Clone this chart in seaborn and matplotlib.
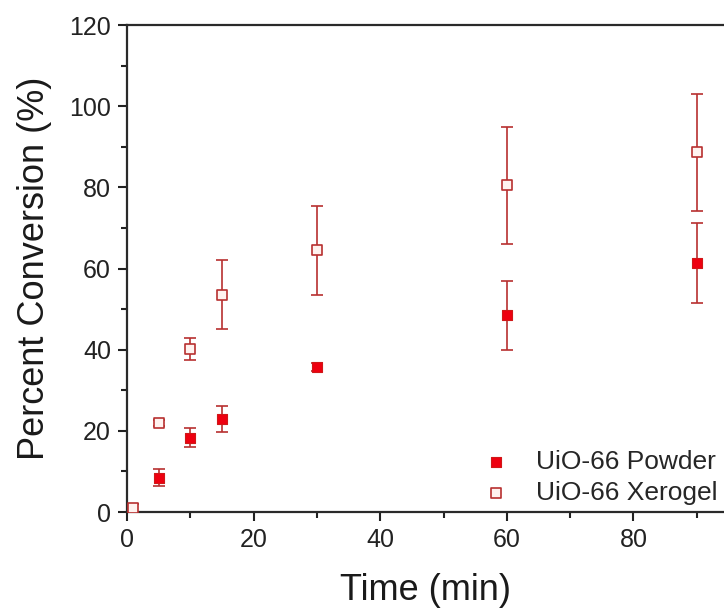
import numpy as np
import pandas as pd
import matplotlib
matplotlib.use("Agg")
import matplotlib.pyplot as plt
import seaborn as sns
from matplotlib.ticker import MultipleLocator

time_powder = [5, 10, 15, 30, 60, 90]
conv_powder = [8.5, 18.3, 22.9, 35.8, 48.5, 61.3]
err_powder = [2.1, 2.3, 3.2, 1.0, 8.5, 9.9]

time_xerogel = [1, 5, 10, 15, 30, 60, 90]
conv_xerogel = [1.0, 21.9, 40.2, 53.5, 64.5, 80.5, 88.6]
err_xerogel = [1.0, 0.8, 2.7, 8.5, 11.0, 14.5, 14.4]

labels = ["UiO-66 Powder", "UiO-66 Xerogel"]

sns.set_theme(style="ticks")
plt.rcParams['font.family'] = ['Liberation Sans', 'DejaVu Sans']

df = pd.concat([
    pd.DataFrame({"t": time_powder, "c": conv_powder, "s": labels[0]}),
    pd.DataFrame({"t": time_xerogel, "c": conv_xerogel, "s": labels[1]}),
])

fig = plt.figure(figsize=(7.24, 6.11), dpi=100)
ax = fig.add_axes([0.1754, 0.162, 0.8246, 0.797])

edge = "#b83030"
ax.errorbar(time_powder, conv_powder, yerr=err_powder, fmt="none",
            ecolor=edge, elinewidth=1.2, capsize=4, capthick=1.2, zorder=2)
ax.errorbar(time_xerogel, conv_xerogel, yerr=err_xerogel, fmt="none",
            ecolor=edge, elinewidth=1.2, capsize=4, capthick=1.2, zorder=2)

sns.scatterplot(data=df[df.s == labels[0]], x="t", y="c", marker="s", s=62,
                color="#ee0010", edgecolor="#d01818", linewidth=0.8,
                label=labels[0], ax=ax, zorder=3)
sns.scatterplot(data=df[df.s == labels[1]], x="t", y="c", marker="s", s=55,
                color="#fff2ef", edgecolor=edge, linewidth=1.2,
                label=labels[1], ax=ax, zorder=3)

ax.set_xlim(0, 94.3)
ax.set_ylim(0, 120)
ax.xaxis.set_major_locator(MultipleLocator(20))
ax.xaxis.set_minor_locator(MultipleLocator(10))
ax.yaxis.set_major_locator(MultipleLocator(20))
ax.yaxis.set_minor_locator(MultipleLocator(10))
ax.tick_params(which="major", direction="out", length=6.5, width=1.5,
               labelsize=18, colors="#222222", pad=5)
ax.tick_params(which="minor", direction="out", length=4.3, width=1.5,
               colors="#222222")
for side in ["left", "bottom", "top"]:
    ax.spines[side].set_visible(True)
    ax.spines[side].set_linewidth(1.6)
    ax.spines[side].set_color("#2a2a2a")
ax.spines["right"].set_visible(False)
ax.tick_params(top=False, right=False)

ax.set_xlabel("Time (min)", fontsize=26, labelpad=15, color="#1a1a1a")
ax.set_ylabel("Percent Conversion (%)", fontsize=26, labelpad=12, color="#1a1a1a")

leg = ax.legend(loc="lower right", frameon=False, fontsize=19,
                handletextpad=0.5, borderaxespad=0.05, markerscale=1.0,
                labelspacing=0.3, borderpad=0.2)

fig.savefig("out.png", dpi=100)
